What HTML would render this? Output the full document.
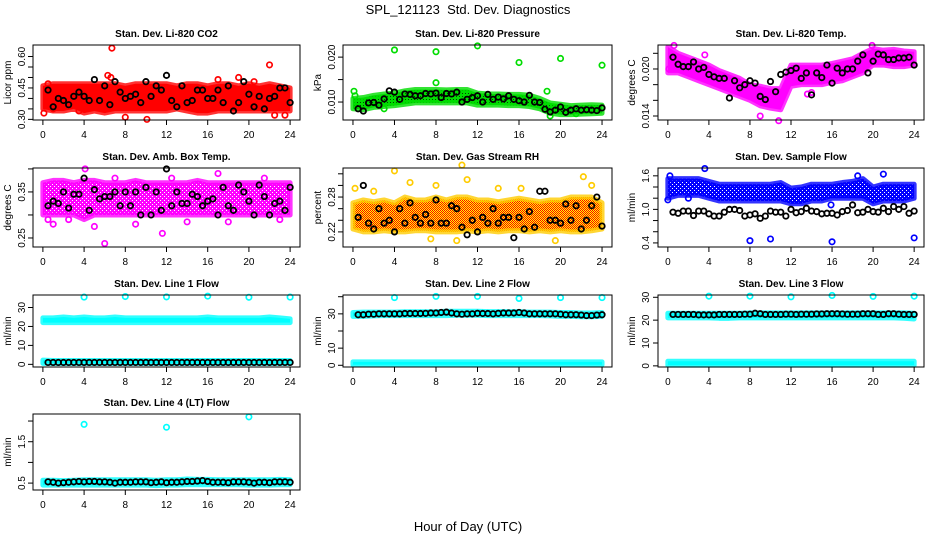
<!DOCTYPE html>
<html><head><meta charset="utf-8">
<style>
html,body{margin:0;padding:0;background:#fff;}
svg{display:block;font-family:"Liberation Sans",Arial,sans-serif;}
</style></head>
<body>
<svg id="chart" width="936" height="540" viewBox="0 0 936 540" xmlns="http://www.w3.org/2000/svg">
<defs>
<pattern id="rhpat" width="2" height="2" patternUnits="userSpaceOnUse"><rect width="2" height="2" fill="#ffff00"/><rect width="1" height="1" fill="#ff0000"/><rect x="1" y="1" width="1" height="1" fill="#ff0000"/></pattern>
<pattern id="prpat" width="3" height="3" patternUnits="userSpaceOnUse"><rect width="3" height="3" fill="#00dd00"/><rect width="1" height="1" fill="#004400"/></pattern>
<pattern id="abpat" width="4" height="4" patternUnits="userSpaceOnUse"><rect width="4" height="4" fill="#ff00ff"/><rect width="1" height="1" fill="#ffffff"/><rect x="2" y="2" width="1" height="1" fill="#ffffff"/></pattern>
<pattern id="sfpat" width="4" height="4" patternUnits="userSpaceOnUse"><rect width="4" height="4" fill="#0000ff"/><rect width="1" height="1" fill="#ffffff"/><rect x="2" y="2" width="1" height="1" fill="#ffffff"/></pattern>
</defs>
<text x="468" y="14" font-size="13" text-anchor="middle">SPL_121123&#160; Std. Dev. Diagnostics</text>
<text x="468" y="531" font-size="13" text-anchor="middle">Hour of Day (UTC)</text>
</svg>
<script>
// shared hour grids
const bandHours = [0,1,2,3,4,5,6,7,8,9,10,11,12,13,14,15,16,17,18,19,20,21,22,23,24];
const blackHours = [0.5,1,1.5,2,2.5,3,3.5,4,4.5,5,5.5,6,6.5,7,7.5,8,8.5,9,9.5,10,10.5,11,11.5,12,12.5,13,13.5,14,14.5,15,15.5,16,16.5,17,17.5,18,18.5,19,19.5,20,20.5,21,21.5,22,22.5,23,23.5,24];
const xTicks = [0,4,8,12,16,20,24];

// CO2
const co2Lo = [.35,.34,.34,.35,.33,.34,.33,.34,.34,.34,.34,.34,.34,.35,.34,.33,.33,.34,.34,.34,.34,.34,.34,.34,.34];
const co2Hi = [.46,.47,.47,.47,.47,.47,.47,.47,.46,.47,.47,.47,.47,.46,.47,.47,.46,.47,.47,.46,.47,.46,.47,.46,.45];
const co2Black = [.44,.36,.40,.39,.37,.41,.43,.41,.39,.49,.39,.46,.37,.48,.43,.40,.41,.42,.38,.48,.41,.46,.44,.51,.39,.36,.46,.38,.39,.44,.44,.40,.40,.44,.38,.46,.34,.38,.48,.42,.36,.41,.35,.40,.41,.45,.45,.38];
const co2OutX = [6.7,22,6.3,6.6,8,10.1,0.1,22.5,23.5,19,17,20.5,0.5,1,3.5];
const co2OutY = [.64,.56,.51,.50,.31,.30,.33,.32,.32,.50,.49,.48,.47,.35,.34];

// Pressure
const prLo = [.0085,.0083,.0088,.009,.0092,.0095,.0098,.0098,.0098,.0098,.0098,.0098,.0093,.0093,.0093,.0092,.0092,.009,.0085,.0075,.0072,.0072,.0073,.0074,.0075];
const prHi = [.0108,.011,.0115,.0118,.012,.0125,.0128,.0128,.0128,.0127,.0128,.0128,.012,.0118,.0118,.0117,.0117,.0115,.0108,.0098,.0095,.0092,.0093,.0094,.0093];
const prBlack = [.0085,.008,.0098,.0099,.0093,.0107,.0125,.0122,.0106,.0118,.0117,.0114,.0114,.0119,.0118,.012,.011,.0119,.0118,.0122,.0100,.0106,.011,.0114,.0100,.0117,.0106,.0111,.0107,.0114,.0106,.0103,.010,.0115,.0100,.0099,.0084,.0078,.0082,.0089,.0077,.0082,.0085,.0082,.0083,.0082,.0081,.0087];
const prOutX = [4,8,12,16,20,24,0.1,8,18.7,19,21.5,0.2,3];
const prOutY = [.0216,.0212,.0225,.0188,.0197,.0182,.0124,.0143,.0124,.0069,.0074,.0114,.0085];

// Li-820 Temp
const tpLo = [.0195,.0195,.019,.0185,.018,.0175,.017,.0165,.016,.0153,.015,.0148,.0178,.018,.018,.018,.0183,.0185,.019,.0195,.0205,.0205,.0203,.0203,.0205];
const tpHi = [.0228,.022,.0215,.021,.0205,.0198,.0193,.0188,.018,.0178,.0175,.0175,.0205,.0205,.0205,.0205,.0207,.021,.0213,.022,.0226,.0224,.0225,.0223,.0222];
const tpBlack = [.0215,.0206,.0203,.0203,.0209,.0200,.0202,.0193,.0190,.0188,.0188,.0163,.0185,.0176,.0180,.0185,.0182,.0165,.0161,.0184,.0171,.0193,.0196,.0198,.0201,.0188,.0195,.0167,.0195,.0189,.0205,.0182,.0201,.0195,.0200,.0200,.0210,.0218,.0195,.0210,.0219,.0218,.0212,.0212,.0214,.0214,.0215,.0205];
const tpOutX = [0.6,3.6,8.6,9,10.8,13.6,14,19.9,0.1];
const tpOutY = [.0230,.0218,.0163,.0140,.0134,.0168,.0170,.0230,.0200];

// Amb box temp
const abLo = [.30,.30,.30,.30,.29,.30,.30,.30,.30,.30,.30,.30,.30,.30,.30,.30,.30,.30,.30,.30,.30,.30,.30,.30,.30];
const abHi = [.37,.375,.375,.37,.375,.375,.37,.37,.37,.375,.37,.37,.37,.37,.37,.375,.37,.37,.37,.37,.37,.37,.37,.37,.37];
const abBlack = [.32,.33,.325,.35,.315,.345,.345,.38,.31,.355,.335,.34,.34,.35,.32,.35,.32,.35,.30,.36,.30,.35,.31,.40,.32,.35,.325,.325,.345,.34,.32,.33,.335,.30,.36,.32,.31,.365,.35,.33,.30,.365,.34,.30,.325,.33,.31,.36];
const abOutX = [4.1,5,6,11.6,17,21.5,1,7,0.5,2.5,9,14,18,23,12.5];
const abOutY = [.40,.275,.238,.26,.39,.38,.28,.38,.29,.29,.28,.285,.285,.29,.38];

// Gas stream RH
const rhLo = [.225,.22,.22,.222,.22,.22,.222,.222,.22,.22,.22,.222,.22,.222,.22,.222,.222,.22,.222,.22,.222,.22,.22,.222,.225];
const rhHi = [.27,.275,.272,.275,.27,.28,.275,.275,.28,.275,.28,.28,.275,.275,.272,.275,.278,.275,.272,.275,.275,.28,.28,.28,.27];
const rhBlack = [.245,.30,.235,.225,.26,.235,.24,.22,.26,.235,.27,.245,.235,.25,.235,.275,.235,.235,.265,.26,.228,.215,.24,.22,.245,.235,.26,.235,.245,.245,.21,.245,.225,.255,.228,.29,.29,.24,.24,.235,.268,.24,.265,.225,.24,.265,.28,.23];
const rhOutX = [0.2,4,10.5,5.5,16.2,23,22.2,11,19.5,10,7.5,2,8,14];
const rhOutY = [.295,.325,.335,.305,.295,.30,.315,.31,.205,.205,.208,.29,.30,.295];

// Sample flow
const sfLo = [1.2,1.25,1.25,1.25,1.2,1.15,1.15,1.15,1.15,1.15,1.15,1.15,1.1,1.1,1.15,1.15,1.2,1.2,1.2,1.2,1.1,1.15,1.15,1.15,1.2];
const sfHi = [1.55,1.55,1.55,1.55,1.5,1.45,1.45,1.45,1.45,1.45,1.45,1.48,1.38,1.4,1.45,1.45,1.45,1.48,1.5,1.55,1.4,1.45,1.45,1.45,1.45];
const sfBlack = [.95,.93,.97,.97,.89,.97,.97,.92,.88,.88,.95,1.0,1.0,.98,.88,.90,.92,.84,.88,.97,.95,.95,.88,1.0,.94,.96,1.02,.97,.96,.92,.93,.93,.90,.96,.98,1.08,.94,.95,1.0,.96,.95,1.02,.96,1.05,1.0,1.05,.93,.97];
const sfOutX = [0,3.6,8,10,16,24,21,15.9,0.2,2,18.5];
const sfOutY = [1.17,1.73,.44,.47,.42,.49,1.63,1.08,1.6,1.2,1.6];

// Line 1 flow
const l1UpLo = [22,22,22,22,22,22,22,22,22,22,22,22,22,22,22,22,22,22,22,22,22,22,22,22,22];
const l1UpHi = [24.5,24.5,25,24.5,25,24.5,24.5,25,24.5,24.5,24.5,24.5,24.5,24.5,24.5,24.5,25,24.5,24.5,24.5,24.5,24.5,25,24.5,24];
const l1DnLo = [0.5,0.5,0.5,0.5,0.5,0.5,0.5,0.5,0.5,0.5,0.5,0.5,0.5,0.5,0.5,0.5,0.5,0.5,0.5,0.5,0.5,0.5,0.5,0.5,0.5];
const l1DnHi = [2.2,2,2,2,2,2,2,2,2,2,2,2,2,2,2,2,2,2,2,2,2,2,2,2,2];
const l1Black = [1,1,1,1,1,1,1,1,1,1,1,1,1,1,1,1,1,1,1,1,1,1,1,1,1,1,1,1,1,1,1,1,1,1,1,1,1,1,1,1,1,1,1,1,1,1,1,1];
const l1OutX = [4,8,12,16,20,24];
const l1OutY = [35.5,35.8,35.6,36,35.4,35.5];

// Line 2 flow
const l2UpLo = [28.5,28.5,28.8,29,29,29,29,29,29,29,29.2,29.2,29.2,29,29,29,29,29,29,28.8,28.5,28.5,28.3,28.3,28.5];
const l2UpHi = [30.8,31,31,31,31,31.2,31.2,31.2,31.2,31.5,31.5,31.5,31.5,31.3,31.3,31.3,31.3,31,31,31,30.8,30.8,30.5,30.5,30.8];
const l2DnLo = [0.3,0.3,0.3,0.3,0.3,0.3,0.3,0.3,0.3,0.3,0.3,0.3,0.3,0.3,0.3,0.3,0.3,0.3,0.3,0.3,0.3,0.3,0.3,0.3,0.3];
const l2DnHi = [2,2,2,2,2,2,2,2,2,2,2,2,2,2,2,2,2,2,2,2,2,2,2,2,2];
const l2Black = [29.5,29.5,29.8,29.8,30,30,30,30,30,30.2,30.2,30.2,30.2,30.3,30.5,30.5,30.8,31,30.5,30,29.8,30,30,30.3,30.2,30.2,30,30.3,30.5,30.5,30.5,30.8,30.5,30,30,30,30,30,30,29.8,29.5,29.5,29.5,29.3,29,29,29.3,29.5];
const l2OutX = [4,8,12,16,20,24];
const l2OutY = [39.5,40.2,40.2,39,39.5,39.5];

// Line 3 flow
const l3UpLo = [21,21,21,21,21,20.8,20.8,21,21,21,21,21,21,21,21,21,21,21,21,21,21,21,21,20.8,20.5];
const l3UpHi = [23,23,23,23,23,23,23,23,23.2,23.2,23.2,23.2,23.2,23.2,23.2,23.2,23.2,23.2,23.2,23.2,23.2,23.2,23.2,23.2,23];
const l3DnLo = [0.3,0.3,0.3,0.3,0.3,0.3,0.3,0.3,0.3,0.3,0.3,0.3,0.3,0.3,0.3,0.3,0.3,0.3,0.3,0.3,0.3,0.3,0.3,0.3,0.3];
const l3DnHi = [2,2,2,2,2,2,2,2,2,2,2,2,2,2,2,2,2,2,2,2,2,2,2,2,2];
const l3Black = [22.5,22.5,22.5,22.5,22.5,22.3,22.3,22.3,22.3,22.5,22.5,22.5,22.5,22.5,22.6,22.6,23,22.8,22.5,22.5,22.5,22.5,22.6,22.6,22.5,22.6,22.6,22.6,22.7,22.7,22.8,22.8,22.8,22.7,22.6,22.6,22.6,22.8,22.8,22.8,22.5,22.5,22.8,22.8,22.6,22.5,22.5,22.5];
const l3OutX = [4,8,12,16,20,24];
const l3OutY = [30.5,30.5,30.2,30.8,30.4,30.5];

// Line 4 flow
const l4Lo = [.45,.45,.45,.45,.45,.45,.45,.45,.45,.45,.45,.44,.45,.45,.46,.46,.46,.46,.46,.46,.45,.45,.45,.46,.46];
const l4Hi = [.57,.57,.56,.57,.58,.58,.58,.58,.58,.58,.58,.57,.58,.58,.6,.59,.59,.58,.58,.58,.58,.58,.58,.59,.58];
const l4Black = [.53,.52,.50,.51,.52,.53,.54,.53,.54,.54,.53,.53,.52,.50,.52,.52,.52,.53,.53,.53,.51,.52,.53,.51,.52,.52,.53,.54,.54,.55,.56,.54,.52,.52,.52,.51,.53,.53,.53,.52,.50,.52,.52,.51,.53,.53,.53,.52];
const l4OutX = [4,12,20];
const l4OutY = [1.92,1.85,2.1];

const NS = "http://www.w3.org/2000/svg";
const svg = document.getElementById('chart');
function mk(tag, attrs, parent){
  const e = document.createElementNS(NS, tag);
  for (const k in attrs) e.setAttribute(k, attrs[k]);
  (parent||svg).appendChild(e);
  return e;
}
const cols = [[33,300,21,8],[343,612,331,318],[658,924,645,632]];
const rows = [[45,120],[168,247],[295,367],[414,490]];

function panel(p){
  const [L,R,tlx,ytx] = cols[p.col];
  const [T,B] = rows[p.row];
  const g = mk('g', {});
  
  
  const xs = h => L + (h + 0.96) / 25.92 * (R - L);
  const ys = v => B - (v - p.ymin) / (p.ymax - p.ymin) * (B - T);
  const t = mk('text', {x:(L+R)/2, y:T-8, 'font-size':10, 'font-weight':'bold', 'text-anchor':'middle'}, g);
  t.textContent = p.title;
  
  
  const cg = mk('g', {}, g);
  
  
  p.bands.forEach(bd => {
    let pts = bandHours.map((h,i) => xs(h)+','+ys(bd.hi[i]));
    pts = pts.concat(bandHours.slice().reverse().map((h,j) => xs(h)+','+ys(bd.lo[bandHours.length-1-j])));
    const pg = mk('polygon', {points:pts.join(' '), fill:p.fill||p.color, stroke:p.color, 'stroke-width':5, 'stroke-linejoin':'round', 'stroke-opacity':0.8}, cg);
    
    
  });
  p.outX.forEach((h,i) => {
    const c = mk('circle', {cx:xs(h), cy:ys(p.outY[i]), r:2.7, fill:'none', stroke:p.color, 'stroke-width':1.7}, cg);
    
    
  });
  const bg = mk('g', {}, g);
  
  
  blackHours.forEach((h,i) => {
    const c = mk('circle', {cx:xs(h), cy:ys(p.black[i]), r:2.7, fill:'none', stroke:'#000', 'stroke-width':1.8}, bg);
    
    
  });
  const bx = mk('rect', {x:L, y:T, width:R-L, height:B-T, fill:'none', stroke:'#000', 'stroke-width':1}, g);
  
  
  xTicks.forEach(h => {
    const x = xs(h);
    mk('line', {x1:x, x2:x, y1:B, y2:B+5, stroke:'#000'}, g);
    const tx = mk('text', {x:x, y:B+18, 'font-size':10, 'text-anchor':'middle'}, g);
    tx.textContent = String(h);
    
    
  });
  p.yticks.forEach(v => {
    const y = ys(v);
    mk('line', {x1:L-5, x2:L, y1:y, y2:y, stroke:'#000'}, g);
  });
  p.ylabels.forEach((s) => {
    const y = ys(parseFloat(s));
    const tx = mk('text', {x:tlx, y:y, 'font-size':10, 'text-anchor':'middle', transform:'rotate(-90 '+tlx+' '+y+')', dy:'4'}, g);
    tx.textContent = s;
    
    
  });
  const yc = (T+B)/2;
  const yt = mk('text', {x:ytx, y:yc, 'font-size':10, 'text-anchor':'middle', transform:'rotate(-90 '+ytx+' '+yc+')', dy:'3'}, g);
  yt.textContent = p.ytitle;
  
  
}

panel({name:'co2', title:'Stan. Dev. Li-820 CO2', col:0,row:0, ymin:.297,ymax:.655, color:'#ff0000', bands:[{lo:co2Lo,hi:co2Hi}], black:co2Black, outX:co2OutX,outY:co2OutY, yticks:[.30,.35,.40,.45,.50,.55,.60], ylabels:['0.30','0.45','0.60'], ytitle:'Licor ppm'});
panel({name:'pressure', title:'Stan. Dev. Li-820 Pressure', col:1,row:0, ymin:.006,ymax:.0227, color:'#00dd00', fill:'url(#prpat)', bands:[{lo:prLo,hi:prHi}], black:prBlack, outX:prOutX,outY:prOutY, yticks:[.010,.015,.020], ylabels:['0.010','0.020'], ytitle:'kPa'});
panel({name:'li820-temp', title:'Stan. Dev. Li-820 Temp.', col:2,row:0, ymin:.01349,ymax:.02306, color:'#ff00ff', bands:[{lo:tpLo,hi:tpHi}], black:tpBlack, outX:tpOutX,outY:tpOutY, yticks:[.014,.016,.018,.020,.022], ylabels:['0.014','0.020'], ytitle:'degrees C'});
panel({name:'amb-box-temp', title:'Stan. Dev. Amb. Box Temp.', col:0,row:1, ymin:.2304,ymax:.402, color:'#ff00ff', fill:'url(#abpat)', bands:[{lo:abLo,hi:abHi}], black:abBlack, outX:abOutX,outY:abOutY, yticks:[.25,.30,.35,.40], ylabels:['0.25','0.35'], ytitle:'degrees C'});
panel({name:'gas-rh', title:'Stan. Dev. Gas Stream RH', col:1,row:1, ymin:.194,ymax:.33, color:'#ffcc00', fill:'url(#rhpat)', bands:[{lo:rhLo,hi:rhHi}], black:rhBlack, outX:rhOutX,outY:rhOutY, yticks:[.22,.24,.26,.28,.30,.32], ylabels:['0.22','0.28'], ytitle:'percent'});
panel({name:'sample-flow', title:'Stan. Dev. Sample Flow', col:2,row:1, ymin:.327,ymax:1.74, color:'#0000ff', fill:'url(#sfpat)', bands:[{lo:sfLo,hi:sfHi}], black:sfBlack, outX:sfOutX,outY:sfOutY, yticks:[.4,.6,.8,1.0,1.2,1.4,1.6], ylabels:['0.4','1.0','1.6'], ytitle:'ml/min'});
panel({name:'line1-flow', title:'Stan. Dev. Line 1 Flow', col:0,row:2, ymin:-1.4,ymax:36.6, color:'#00ffff', bands:[{lo:l1UpLo,hi:l1UpHi},{lo:l1DnLo,hi:l1DnHi}], black:l1Black, outX:l1OutX,outY:l1OutY, yticks:[0,10,20,30], ylabels:['0','10','20','30'], ytitle:'ml/min'});
panel({name:'line2-flow', title:'Stan. Dev. Line 2 Flow', col:1,row:2, ymin:-1,ymax:41, color:'#00ffff', bands:[{lo:l2UpLo,hi:l2UpHi},{lo:l2DnLo,hi:l2DnHi}], black:l2Black, outX:l2OutX,outY:l2OutY, yticks:[0,10,20,30,40], ylabels:['0','10','30'], ytitle:'ml/min'});
panel({name:'line3-flow', title:'Stan. Dev. Line 3 Flow', col:2,row:2, ymin:-0.5,ymax:31, color:'#00ffff', bands:[{lo:l3UpLo,hi:l3UpHi},{lo:l3DnLo,hi:l3DnHi}], black:l3Black, outX:l3OutX,outY:l3OutY, yticks:[0,10,20,30], ylabels:['0','10','20','30'], ytitle:'ml/min'});
panel({name:'line4-flow', title:'Stan. Dev. Line 4 (LT) Flow', col:0,row:3, ymin:.333,ymax:2.17, color:'#00ffff', bands:[{lo:l4Lo,hi:l4Hi}], black:l4Black, outX:l4OutX,outY:l4OutY, yticks:[.5,1.0,1.5,2.0], ylabels:['0.5','1.5'], ytitle:'ml/min'});
</script>
</body></html>
